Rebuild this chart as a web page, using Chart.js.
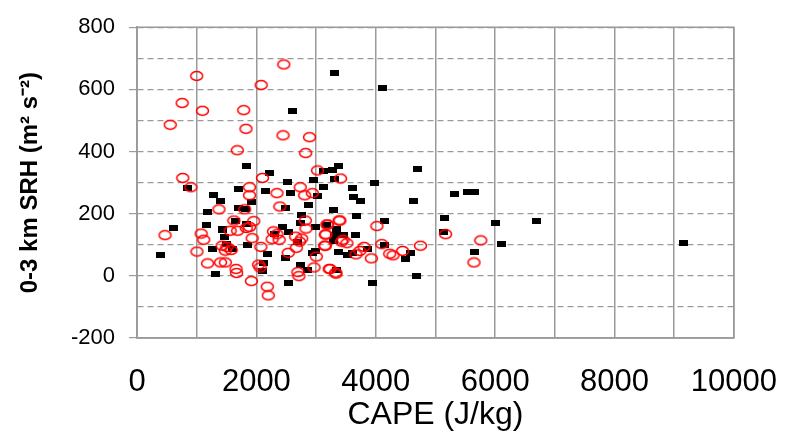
<!DOCTYPE html>
<html>
<head>
<meta charset="utf-8">
<script src="https://cdn.jsdelivr.net/npm/chart.js@4/dist/chart.umd.min.js"></script>
<style>
  body { margin: 0; background: #fff; }
  #chartSrh { display: block; }
</style>
</head>
<body>
<canvas id="chartSrh" width="803" height="440"></canvas>
<script>
// CAPE (J/kg) and 0-3 km SRH values
const squareCape = [3301, 4106, 2609, 1842, 2225, 2528, 2961, 3123, 3117, 3274, 3382, 3301, 838, 1280, 1702, 2156,
  2571, 4700, 3982, 3614, 5311, 5543, 5651, 3739, 3625, 4640, 3290, 3679, 5159, 4142, 6008, 6700, 3344, 3463,
  3658, 3182, 3290, 5127, 6110, 4144, 3371, 3533, 3857, 4576, 4494, 5656, 3344, 4679, 3938, 3614, 9162, 1399,
  1912, 2873, 3020, 1696, 1188, 2480, 605, 1167, 1437, 1642, 1842, 1464, 2307, 2533, 2442, 2750, 2993, 400,
  1264, 1494, 1605, 1858, 2193, 2112, 2496, 2102, 1307, 2533, 2734, 2858, 2938, 2993, 2696, 1815, 1426, 2734, 3317];
const squareSrh = [653, 604, 529, 352, 331, 302, 307, 287, 336, 339, 355, 311, 282, 261, 280, 274,
  268, 345, 300, 282, 263, 271, 269, 242, 253, 242, 212, 193, 185, 175, 171, 177, 150, 133,
  133, 162, 112, 142, 102, 100, 77, 67, 87, 74, 53, 76, 20, 1, -22, 74, 105, 242,
  238, 227, 256, 217, 204, 217, 155, 162, 149, 178, 168, 126, 136, 140, 157, 197, 157, 66,
  87, 102, 85, 100, 69, 41, 56, 15, 5, -22, 35, 20, 74, 81, 110, 216, 152, 171, 133];

const circleCape = [2459, 1000, 2080, 757, 1097, 1788, 556, 1826, 2447, 2890, 2826, 1680, 3025, 767, 2102, 903,
  1885, 2345, 2734, 2938, 3410, 3398, 3182, 4019, 3155, 3452, 3517, 3155, 4101, 3803, 3733, 3668, 3926, 4234,
  4289, 4451, 4749, 5170, 5759, 5645, 3236, 3333, 1885, 2809, 1373, 1804, 2393, 1624, 1956, 1885, 1831, 1561,
  1686, 1075, 470, 1118, 1929, 1426, 1507, 1577, 1480, 1005, 2075, 1183, 1399, 1480, 1659, 1669, 2037, 2063,
  1917, 2183, 2199, 2345, 2382, 2264, 2533, 2668, 2696, 2712, 3004, 2966, 3144, 3220, 3328, 2820, 2831, 3166,
  3193, 3387, 2658, 2723, 3425, 2285, 2760];
const circleSrh = [680, 643, 614, 556, 531, 533, 486, 473, 452, 446, 395, 404, 339, 315, 315, 285,
  285, 266, 285, 266, 313, 178, 165, 160, 133, 116, 105, 97, 102, 93, 80, 69, 56, 71,
  66, 80, 97, 134, 114, 43, 22, 7, 259, 259, 214, 214, 223, 178, 176, 157, 154, 145,
  145, 136, 131, 116, 121, 97, 93, 83, 81, 78, 93, 40, 43, 43, 22, 9, 36, 27,
  -17, -35, -63, 134, 116, 118, 74, 90, 12, -1, 62, 27, 97, 22, 10, 178, 152, 133,
  165, 178, 126, 110, 110, 143, 120];

const xTicks = [0, 2000, 4000, 6000, 8000, 10000];
const yTicks = [-200, 0, 200, 400, 600, 800];

const gridGray = "#9a9a9a";

// marker images: flat open ellipse and flat filled box, like the original
const ringImg = document.createElement("canvas");
ringImg.width = 15;
ringImg.height = 12;
let g = ringImg.getContext("2d");
g.strokeStyle = "#ff0000";
g.lineWidth = 1.5;
g.beginPath();
g.ellipse(7.5, 6, 6, 4.4, 0, 0, Math.PI * 2);
g.stroke();

const boxImg = document.createElement("canvas");
boxImg.width = 9;
boxImg.height = 6;
g = boxImg.getContext("2d");
g.fillStyle = "#000";
g.fillRect(0, 0, 9, 6);

const toPoints = (xs, ys) => xs.map((x, i) => ({ x: x, y: ys[i] }));

// solid frame round the plot area
const frame = {
  id: "frame",
  afterDraw(chart) {
    const a = chart.chartArea;
    const ctx = chart.ctx;
    ctx.save();
    ctx.strokeStyle = gridGray;
    ctx.lineWidth = 1.5;
    ctx.strokeRect(a.left, a.top, a.right - a.left, a.bottom - a.top);
    ctx.restore();
  },
};

new Chart(document.getElementById("chartSrh"), {
  type: "scatter",
  data: {
    datasets: [
      { label: "circles", data: toPoints(circleCape, circleSrh), pointStyle: ringImg },
      { label: "squares", data: toPoints(squareCape, squareSrh), pointStyle: boxImg },
    ],
  },
  options: {
    responsive: false,
    animation: false,
    layout: { padding: { top: 17, right: 49, left: 0, bottom: 0 } },
    plugins: { legend: { display: false }, tooltip: { enabled: false } },
    scales: {
      x: {
        min: 0,
        max: 10000,
        afterFit: (s) => { s.height = 102; },
        ticks: {
          stepSize: 1000,
          autoSkip: false,
          maxRotation: 0,
          padding: 26,
          color: "#000",
          font: { family: "Liberation Sans, Arial", size: 31 },
          callback: (v) => (xTicks.includes(v) ? String(v) : ""),
        },
        grid: { color: gridGray, lineWidth: 1.5, drawTicks: false },
        border: { color: gridGray, width: 1.5 },
        title: {
          display: true,
          text: "CAPE (J/kg)",
          color: "#000",
          font: { family: "Liberation Sans, Arial", size: 32 },
          padding: { top: 0, bottom: 6 },
        },
      },
      y: {
        min: -200,
        max: 800,
        afterFit: (s) => { s.width = 137; },
        ticks: {
          stepSize: 100,
          autoSkip: false,
          padding: 14,
          color: "#000",
          font: { family: "Liberation Sans, Arial", size: 22 },
          callback: (v) => (yTicks.includes(v) ? String(v) : ""),
        },
        grid: {
          color: gridGray,
          lineWidth: 1.2,
          tickLength: 8,
          tickColor: (c) => (c.tick && yTicks.includes(c.tick.value) ? gridGray : "rgba(0,0,0,0)"),
        },
        border: { color: gridGray, width: 1.5, dash: [6, 4] },
        title: {
          display: true,
          text: "0-3 km SRH (m\u00b2 s\u207b\u00b2)",
          color: "#000",
          font: { family: "Liberation Sans, Arial", size: 24, weight: "bold" },
          padding: { top: 16, bottom: 0 },
        },
      },
    },
  },
  plugins: [frame],
});
</script>
</body>
</html>
